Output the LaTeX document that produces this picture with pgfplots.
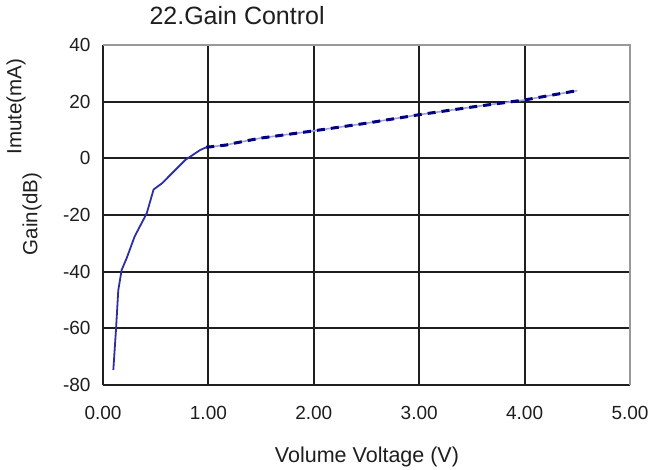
\documentclass[border=0pt]{standalone}
\usepackage{fontspec}
\setmainfont{Liberation Sans}
\usepackage{pgfplots}
\pgfplotsset{compat=1.18}
\definecolor{gainblue}{RGB}{45,45,165}
\definecolor{imnavy}{RGB}{0,0,128}
\definecolor{txt}{RGB}{30,30,30}
\begin{document}
\begin{tikzpicture}[x=1pt,y=1pt]
\useasboundingbox (0,0) rectangle (667,469);
\begin{axis}[
  at={(103pt,84pt)}, anchor=south west,
  scale only axis, width=527pt, height=340pt,
  xmin=0, xmax=5, ymin=-80, ymax=40,
  xtick={0,1,2,3,4,5}, xticklabels={0.00,1.00,2.00,3.00,4.00,5.00},
  ytick={-80,-60,-40,-20,0,20,40}, yticklabels={-80,-60,-40,-20,0,20,40},
  grid=major, major grid style={line width=1.9pt, color=black!88},
  axis line style={draw=none},
  major tick length=0pt, tick style={draw=none},
  ticklabel style={font=\fontsize{19}{19}\selectfont, text=txt},
  yticklabel style={anchor=east, xshift=-9pt},
  xticklabel style={anchor=north, yshift=-18pt},
  clip=false,
]
\addplot[color=gainblue, line width=1.8pt] coordinates {
 (0.098,-74.7) (0.123,-60.6) (0.145,-46.5) (0.177,-39.4) (0.225,-35.2)
 (0.30,-27.6) (0.415,-19.4) (0.48,-11.0) (0.56,-8.8) (0.78,-0.6)
 (0.92,2.9) (0.98,3.9)
};
\addplot[color=gainblue!45, line width=1.6pt] coordinates {
 (0.98,3.9) (1.17,4.7) (1.24,5.3) (1.49,7.1) (2.0,9.7)
 (2.5,12.4) (3.0,15.4) (3.5,18.1) (4.0,20.6) (4.5,23.9)
};
\addplot[color=imnavy, line width=3pt, dash pattern=on 8pt off 6pt] coordinates {
 (0.98,3.9) (1.17,4.7) (1.24,5.3) (1.49,7.1) (2.0,9.7)
 (2.5,12.4) (3.0,15.4) (3.5,18.1) (4.0,20.6) (4.5,23.9)
};
\draw[black!88, line width=2pt] (axis cs:0,-80) -- (axis cs:5,-80);
\draw[black!88, line width=2pt] (axis cs:0,-80) -- (axis cs:0,40);
\draw[black!40, line width=2pt] (axis cs:0,40) -- (axis cs:5,40) -- (axis cs:5,-80);
\end{axis}
\node[anchor=base west, font=\fontsize{25}{25}\selectfont, text=txt] at (146,444) {22.Gain Control};
\node[anchor=base, font=\fontsize{21.5}{21.5}\selectfont, text=txt] at (367,7) {Volume Voltage (V)};
\node[rotate=90, font=\fontsize{20.5}{20.5}\selectfont, text=txt] at (16,362.5) {Imute(mA)};
\node[rotate=90, font=\fontsize{20.5}{20.5}\selectfont, text=txt] at (32,255) {Gain(dB)};
\end{tikzpicture}
\end{document}
